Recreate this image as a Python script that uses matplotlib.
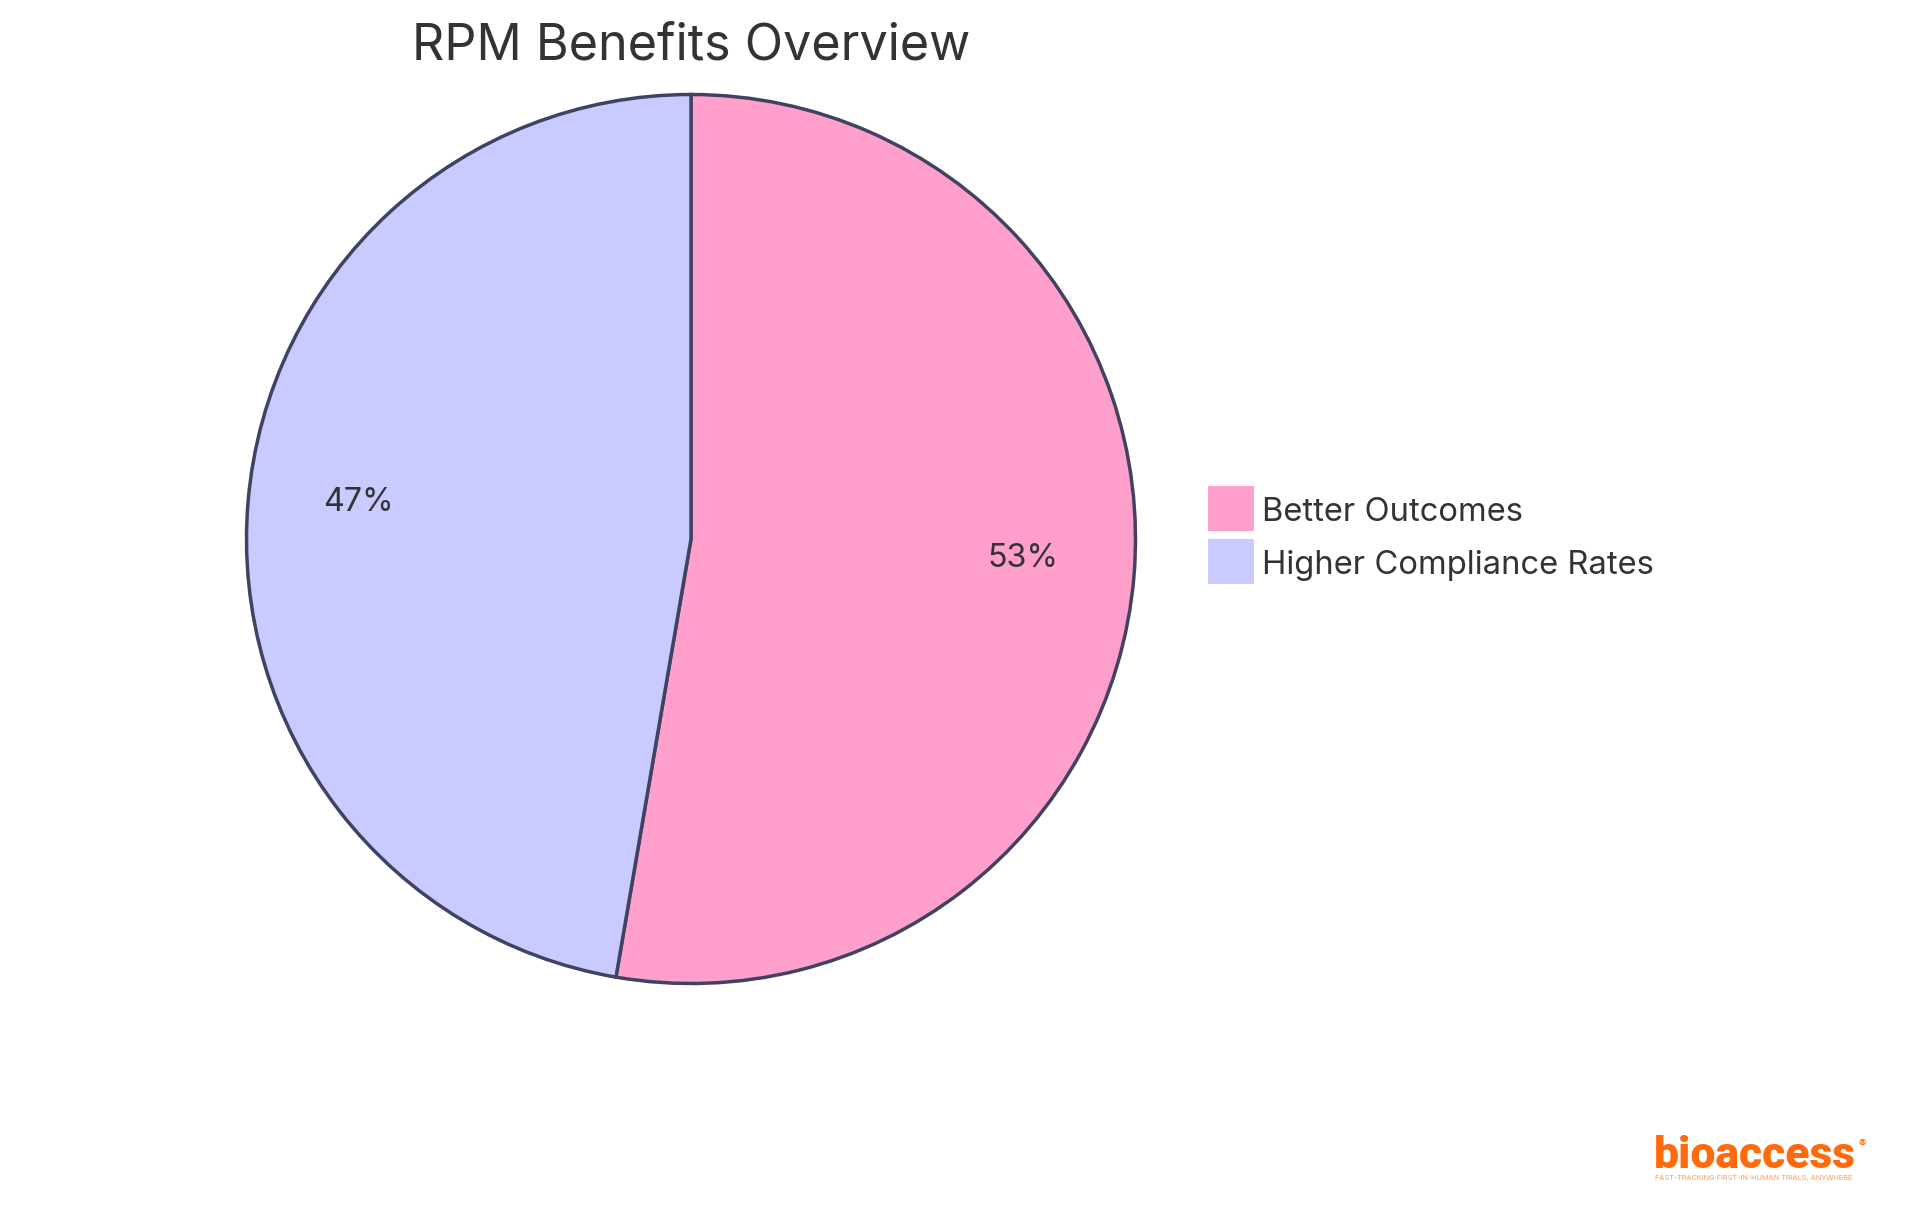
import matplotlib
matplotlib.use('Agg')
import matplotlib.pyplot as plt
from matplotlib.patches import Patch

labels = ['Better Outcomes', 'Higher Compliance Rates']
values = [52.7, 47.3]
colors = ['#FF9FCB', '#C9CAFF']
title = 'RPM Benefits Overview'

text_color = '#333333'
edge_color = '#404262'
logo_color = '#FF6A0D'

plt.rcParams['font.family'] = ['Inter', 'DejaVu Sans']

fig = plt.figure(figsize=(19.2, 12.15), dpi=100)
# axes cover the whole figure, units are pixels from the top left
ax = fig.add_axes([0, 0, 1, 1])

# y axis is flipped below, so counterclock here reads clockwise on screen
wedges, texts, autotexts = ax.pie(
    values, colors=colors, center=(691, 539), radius=444.5,
    startangle=-90, counterclock=True, autopct='%.0f%%', pctdistance=0.75,
    wedgeprops={'edgecolor': edge_color, 'linewidth': 2.5},
    textprops={'color': text_color, 'fontsize': 23.2},
)
for t in autotexts:
    t.set_va('baseline')

ax.set_xlim(0, 1920)
ax.set_ylim(1215, 0)
ax.set_aspect('equal')
ax.axis('off')
ax.set_frame_on(False)

ax.text(691, 59, title, ha='center', va='baseline', fontsize=36.2,
        color=text_color)

handles = [Patch(facecolor=c, edgecolor='none') for c in colors]
leg = ax.legend(handles, labels, loc='upper left', bbox_to_anchor=(1208, 486),
                bbox_transform=ax.transData, frameon=False, fontsize=23.6,
                labelcolor=text_color, borderpad=0, borderaxespad=0,
                handlelength=1.4, handleheight=1.72, handletextpad=0.24,
                labelspacing=0.25)
for t in leg.get_texts():
    t.set_y(-2)

# logo at the bottom right
ax.text(1654, 1168, 'bioaccess', ha='left', va='baseline', fontsize=32,
        fontfamily='Roboto', fontweight='black', color=logo_color)
ax.text(1862, 1147, '®', ha='center', va='baseline', fontsize=8,
        fontweight='bold', color=logo_color)
ax.text(1655, 1180, 'FAST-TRACKING FIRST-IN-HUMAN TRIALS, ANYWHERE',
        ha='left', va='baseline', fontsize=5.3, color='#FF9A5C')

fig.savefig('out.png', dpi=100, facecolor='white')
